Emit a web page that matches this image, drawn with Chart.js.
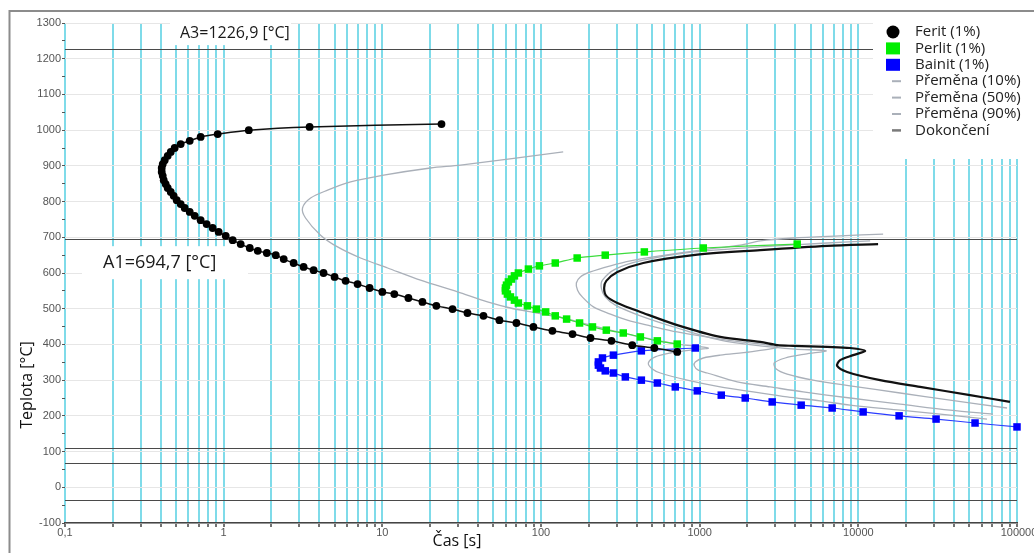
<!DOCTYPE html>
<html lang="cs">
<head>
<meta charset="utf-8">
<title>IRA diagram</title>
<script src="https://cdn.jsdelivr.net/npm/chart.js@4.4.1/dist/chart.umd.min.js"></script>
<style>
  html, body { margin: 0; padding: 0; background: #fff; }
  canvas { display: block; }
</style>
</head>
<body>
<canvas id="ttt" width="1034" height="553"></canvas>
<script>
// Time [s] and temperature [°C] of each curve
const feritTime = [23.6, 3.48, 1.44, 0.917, 0.716, 0.611, 0.536, 0.491, 0.464, 0.444, 0.425, 0.413, 0.407, 0.407, 0.413, 0.419, 0.431, 0.444, 0.464, 0.484, 0.506, 0.536, 0.568, 0.611, 0.657, 0.716, 0.781, 0.852, 0.930, 1.03, 1.14, 1.28, 1.46, 1.64, 1.87, 2.13, 2.39, 2.76, 3.19, 3.69, 4.26, 5.00, 5.87, 6.98, 8.31, 10.0, 11.9, 14.6, 17.9, 21.9, 27.7, 34.4, 43.4, 54.7, 70.0, 89.6, 118, 158, 205, 278, 376, 518, 722];
const feritTemp = [1017, 1009, 1000, 989, 981, 970, 961, 950, 939, 928, 916, 905, 894, 883, 872, 860, 849, 838, 827, 816, 804, 793, 782, 771, 760, 748, 737, 726, 715, 704, 692, 681, 670, 662, 656, 650, 639, 628, 617, 608, 600, 589, 578, 569, 558, 547, 541, 530, 519, 508, 499, 488, 480, 468, 460, 449, 438, 429, 418, 410, 398, 390, 379];

const perlitTime = [4118, 1054, 448, 254, 169, 123, 97.7, 83.3, 72.0, 68.0, 65.1, 62.3, 60.6, 59.7, 59.7, 61.4, 64.2, 68.0, 72.0, 82.1, 93.5, 107, 123, 145, 175, 211, 258, 330, 423, 541, 722];
const perlitTemp = [681, 670, 659, 650, 642, 628, 620, 611, 600, 592, 583, 575, 566, 558, 550, 541, 533, 524, 516, 508, 499, 491, 480, 471, 460, 449, 440, 432, 421, 410, 401];

const bainitTime = [938, 429, 286, 244, 230, 230, 237, 254, 286, 340, 429, 541, 702, 966, 1368, 1937, 2865, 4363, 6840, 10720, 18070, 30900, 54400, 100000];
const bainitTemp = [390, 382, 370, 362, 351, 342, 334, 326, 320, 309, 300, 292, 281, 270, 258, 250, 239, 230, 222, 211, 200, 191, 180, 169];

const prem10Time = [138, 31.1, 20.1, 10.2, 6.31, 4.52, 3.53, 3.14, 3.28, 4.08, 5.22, 7.29, 10.8, 17.4, 29.8, 46.0, 64.2, 94.9, 138, 205, 286, 423, 722, 1133, 873, 653, 525, 475, 503, 565, 835, 1348, 2175, 3561, 5745, 8879, 18340, 37850, 64700];
const prem10Temp = [939, 902, 894, 874, 855, 832, 810, 782, 754, 706, 673, 642, 614, 580, 547, 519, 502, 488, 474, 454, 438, 421, 401, 390, 384, 376, 365, 348, 331, 320, 300, 281, 267, 253, 242, 230, 216, 202, 191];

const prem50Time = [14330, 7680, 3885, 2407, 1802, 1009, 565, 366, 274, 205, 177, 167, 170, 182, 214, 274, 350, 489, 722, 1492, 3082, 2083, 1348, 1054, 938, 925, 980, 1117, 1725, 2783, 4492, 8879, 18340, 37850, 70600];
const prem50Temp = [709, 704, 698, 690, 678, 664, 648, 634, 620, 603, 589, 572, 552, 533, 505, 485, 468, 452, 435, 412, 393, 379, 370, 362, 351, 340, 328, 320, 295, 281, 267, 250, 233, 216, 205];

const prem90Time = [11870, 6361, 2407, 911, 441, 294, 244, 240, 254, 294, 423, 722, 1348, 2407, 4000, 6270, 4624, 3460, 2950, 3037, 3561, 5190, 8879, 18340, 37850, 86500];
const prem90Temp = [690, 684, 673, 659, 636, 611, 580, 558, 533, 510, 480, 446, 412, 396, 387, 382, 373, 362, 348, 331, 317, 300, 284, 264, 244, 222];

const konecTime = [13320, 6361, 2407, 911, 441, 303, 258, 250, 258, 303, 441, 722, 1348, 2407, 3082, 3885, 6361, 8879, 11040, 9275, 7682, 7355, 8502, 13720, 24500, 50600, 90300];
const konecTemp = [681, 676, 664, 650, 628, 603, 578, 558, 536, 516, 488, 454, 421, 407, 398, 396, 393, 390, 382, 370, 356, 340, 323, 300, 281, 258, 239];

// Critical temperatures and further horizontal levels [°C]
const tempA3 = 1226.9;
const tempA1 = 694.7;
const lowerLevels = [109, 67, -35];

// Axis ticks
const decadeTicks = [0.1, 1, 10, 100, 1000, 10000, 100000];
const decadeLabels = ['0,1', '1', '10', '100', '1000', '10000', '100000'];
const minorFactors = [1, 2, 3, 4, 5, 6, 7, 8, 9];
const tempMin = -100, tempMax = 1300, tempStep = 50;

// ---------------------------------------------------------------
const xGridValues = [];
decadeTicks.slice(0, -1).forEach(d => minorFactors.forEach(m => xGridValues.push(d * m)));
xGridValues.push(decadeTicks[decadeTicks.length - 1]);

const pts = (ts, vs) => ts.map((t, i) => ({ x: t, y: vs[i] }));
const cz = v => v.toFixed(1).replace('.', ',');

const SANS = '"Open Sans", "Liberation Sans", Arial, sans-serif';
const TICKFONT = '"Liberation Sans", Arial, sans-serif';

const datasets = [
  { label: 'Ferit (1%)', data: pts(feritTime, feritTemp), legendShape: 'circle',
    borderColor: '#111', borderWidth: 1.5, backgroundColor: '#000',
    pointStyle: 'circle', pointRadius: 3.9, pointBorderWidth: 0, order: 1 },
  { label: 'Perlit (1%)', data: pts(perlitTime, perlitTemp), legendShape: 'rect',
    borderColor: '#3ddc3d', borderWidth: 1.2, backgroundColor: '#00ee00',
    pointStyle: 'rect', pointRadius: 5.3, pointBorderWidth: 0, order: 2 },
  { label: 'Bainit (1%)', data: pts(bainitTime, bainitTemp), legendShape: 'rect',
    borderColor: '#2b3cff', borderWidth: 1.2, backgroundColor: '#0000ff',
    pointStyle: 'rect', pointRadius: 5.3, pointBorderWidth: 0, order: 3 },
  { label: 'Přeměna (10%)', data: pts(prem10Time, prem10Temp), legendShape: 'line',
    borderColor: '#aab0b9', borderWidth: 1.3, pointRadius: 0, order: 5 },
  { label: 'Přeměna (50%)', data: pts(prem50Time, prem50Temp), legendShape: 'line',
    borderColor: '#aab0b9', borderWidth: 1.3, pointRadius: 0, order: 6 },
  { label: 'Přeměna (90%)', data: pts(prem90Time, prem90Temp), legendShape: 'line',
    borderColor: '#aab0b9', borderWidth: 1.3, pointRadius: 0, order: 7 },
  { label: 'Dokončení', data: pts(konecTime, konecTemp), legendShape: 'line', legendColor: '#7a7a7a',
    borderColor: '#111', borderWidth: 2.2, pointRadius: 0, order: 4 }
].map(d => Object.assign({ showLine: true, tension: 0.3, clip: false, fill: false }, d));

const decorPlugin = {
  id: 'tttDecor',
  beforeDraw(chart) {
    const { ctx, width, height } = chart;
    ctx.save();
    ctx.fillStyle = '#fff';
    ctx.fillRect(0, 0, width, height);
    // outer frame
    ctx.strokeStyle = '#8c8c8c';
    ctx.lineWidth = 2;
    ctx.beginPath();
    ctx.moveTo(9.5, height);
    ctx.lineTo(9.5, 11);
    ctx.lineTo(width, 11);
    ctx.stroke();
    ctx.restore();
  },
  beforeDatasetsDraw(chart) {
    const { ctx, chartArea: a, scales: { x, y } } = chart;
    ctx.save();

    // horizontal temperature levels
    ctx.strokeStyle = '#4a4a4a';
    ctx.lineWidth = 1.2;
    [tempA3, tempA1, ...lowerLevels].forEach(v => {
      const py = Math.round(y.getPixelForValue(v)) + 0.5;
      ctx.beginPath();
      ctx.moveTo(a.left, py);
      ctx.lineTo(a.right, py);
      ctx.stroke();
    });

    // label backgrounds
    ctx.fillStyle = '#fff';
    const yA3 = y.getPixelForValue(tempA3);
    const yA1 = y.getPixelForValue(tempA1);
    ctx.fillRect(170, a.top - 1, 121, yA3 - a.top - 3);
    ctx.fillRect(82, yA1 + 7, 166, 33);
    ctx.fillRect(873, 12, 161, 147);

    // level labels
    ctx.fillStyle = '#1a1a1a';
    ctx.textBaseline = 'middle';
    ctx.textAlign = 'left';
    ctx.font = '16px ' + SANS;
    ctx.fillText('A3=' + cz(tempA3) + ' [°C]', 180, a.top + 10);
    ctx.font = '18px ' + SANS;
    ctx.fillText('A1=' + cz(tempA1) + ' [°C]', 103, yA1 + 24);

    // x tick labels
    ctx.fillStyle = '#555';
    ctx.font = '11px ' + TICKFONT;
    ctx.textAlign = 'center';
    decadeTicks.forEach((v, i) => ctx.fillText(decadeLabels[i], x.getPixelForValue(v) + (i === decadeTicks.length - 1 ? 2 : 0), a.bottom + 10));

    // axis titles
    ctx.fillStyle = '#111';
    ctx.font = '16px ' + SANS;
    ctx.fillText('Čas [s]', 457, a.bottom + 18);
    ctx.save();
    ctx.translate(27, 385);
    ctx.rotate(-Math.PI / 2);
    ctx.fillText('Teplota [°C]', 0, 0);
    ctx.restore();

    // legend
    const lx = 893, ly0 = 32, step = 16.4;
    ctx.textAlign = 'left';
    ctx.font = '15px ' + SANS;
    chart.data.datasets.forEach((d, i) => {
      const ly = ly0 + i * step;
      if (d.legendShape === 'circle') {
        ctx.fillStyle = d.backgroundColor;
        ctx.beginPath();
        ctx.arc(lx, ly, 6.5, 0, Math.PI * 2);
        ctx.fill();
      } else if (d.legendShape === 'rect') {
        ctx.fillStyle = d.backgroundColor;
        ctx.fillRect(lx - 7, ly - 6, 14, 12);
      } else {
        ctx.strokeStyle = d.legendColor || d.borderColor;
        ctx.lineWidth = d.legendColor ? 2.5 : 2;
        ctx.beginPath();
        ctx.moveTo(lx - 1, ly);
        ctx.lineTo(lx + 8, ly);
        ctx.stroke();
      }
      ctx.fillStyle = '#222';
      ctx.fillText(d.label, 915, ly);
    });

    ctx.restore();
  }
};

new Chart(document.getElementById('ttt'), {
  type: 'scatter',
  data: { datasets },
  plugins: [decorPlugin],
  options: {
    responsive: false,
    animation: false,
    events: [],
    layout: { padding: { top: 23, right: 17, left: 0, bottom: 0 } },
    plugins: { legend: { display: false }, tooltip: { enabled: false } },
    scales: {
      x: {
        type: 'logarithmic',
        min: decadeTicks[0],
        max: decadeTicks[decadeTicks.length - 1],
        afterBuildTicks: s => { s.ticks = xGridValues.map(v => ({ value: v })); },
        afterFit: s => { s.height = 30; },
        ticks: { display: false },
        grid: { color: '#7fdbe9', lineWidth: 2, drawTicks: true, tickLength: 4, tickColor: '#444', tickWidth: 1.5 },
        border: { display: true, color: '#444', width: 1.5 }
      },
      y: {
        type: 'linear',
        min: tempMin,
        max: tempMax,
        afterFit: s => { s.width = 65; },
        ticks: {
          stepSize: tempStep,
          autoSkip: false,
          padding: 1,
          color: '#555',
          font: { family: TICKFONT, size: 11 },
          callback: v => (v % 100 === 0 ? String(v) : '')
        },
        grid: {
          color: c => (c.tick && c.tick.value % 100 === 0 ? '#e6e6e6' : 'rgba(0,0,0,0)'),
          lineWidth: 1,
          tickLength: 3,
          tickColor: '#555'
        },
        border: { display: false }
      }
    }
  }
});
</script>
</body>
</html>
